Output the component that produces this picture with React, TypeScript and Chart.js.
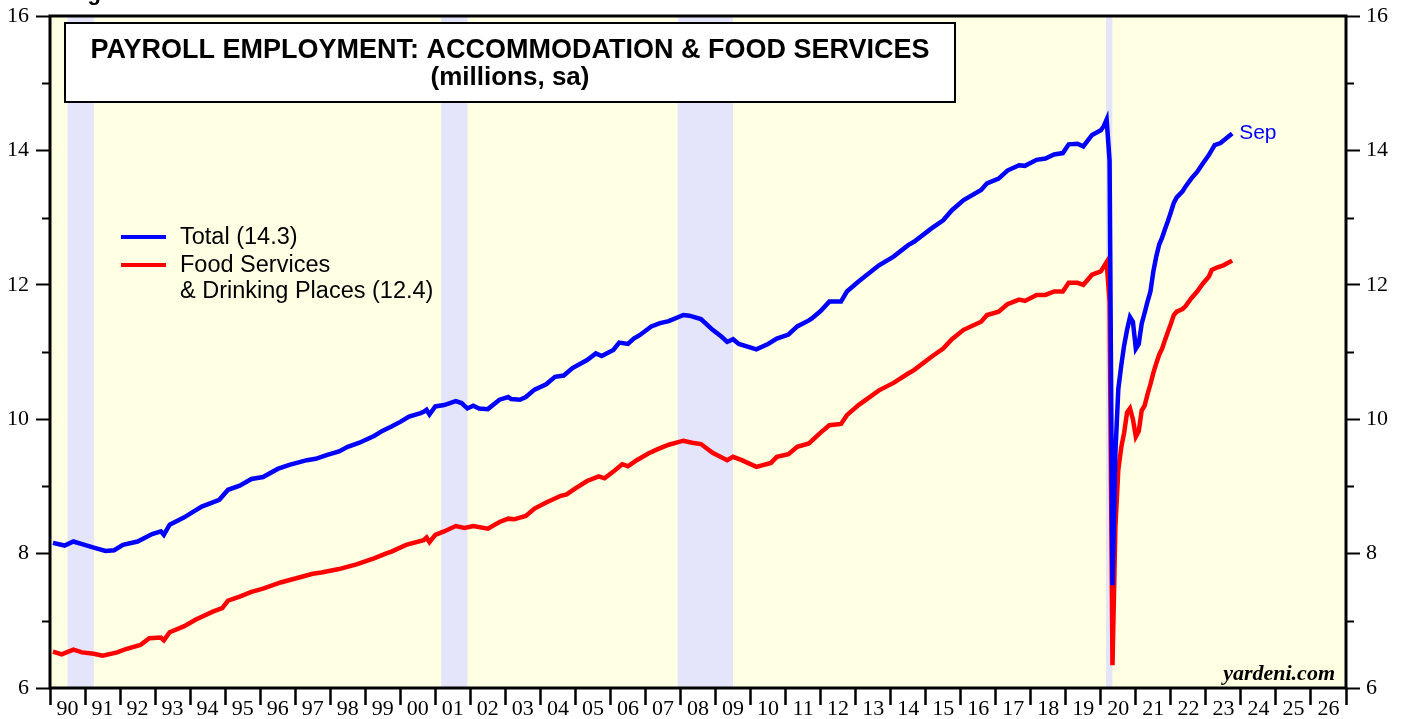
import { useEffect, useRef } from 'react';
import { Chart, registerables } from 'chart.js';

Chart.register(...registerables);

// ---------------- data (millions, sa) ----------------
const totalDates = [
  '1990-01', '1990-05', '1990-08', '1990-11', '1991-03', '1991-07', '1991-10', '1992-01', '1992-06', '1992-11',
  '1993-02', '1993-03', '1993-05', '1993-10', '1994-01', '1994-04', '1994-10', '1995-01', '1995-05', '1995-09',
  '1996-01', '1996-06', '1996-10', '1997-04', '1997-07', '1997-11', '1998-03', '1998-06', '1998-10', '1999-03',
  '1999-06', '1999-09', '1999-12', '2000-03', '2000-07', '2000-08', '2000-09', '2000-10', '2000-12', '2001-03',
  '2001-07', '2001-09', '2001-11', '2002-01', '2002-03', '2002-06', '2002-10', '2003-01', '2003-02', '2003-05',
  '2003-07', '2003-10', '2004-02', '2004-05', '2004-08', '2004-11', '2005-04', '2005-07', '2005-09', '2006-01',
  '2006-03', '2006-06', '2006-08', '2006-10', '2007-02', '2007-05', '2007-08', '2008-01', '2008-03', '2008-07',
  '2008-11', '2009-02', '2009-04', '2009-06', '2009-08', '2010-02', '2010-06', '2010-09', '2011-01', '2011-04',
  '2011-08', '2011-09', '2011-12', '2012-03', '2012-07', '2012-09', '2013-01', '2013-08', '2014-01', '2014-06',
  '2014-08', '2015-02', '2015-06', '2015-09', '2016-01', '2016-07', '2016-09', '2017-01', '2017-04', '2017-08',
  '2017-10', '2018-02', '2018-05', '2018-08', '2018-11', '2019-01', '2019-04', '2019-06', '2019-09', '2019-12',
  '2020-01', '2020-02', '2020-03', '2020-04', '2020-05', '2020-06', '2020-07', '2020-08', '2020-09', '2020-10',
  '2020-11', '2020-12', '2021-01', '2021-02', '2021-03', '2021-04', '2021-05', '2021-06', '2021-07', '2021-08',
  '2021-09', '2021-10', '2021-11', '2021-12', '2022-01', '2022-02', '2022-04', '2022-05', '2022-07', '2022-09',
  '2022-11', '2023-01', '2023-03', '2023-05', '2023-07', '2023-09',
];
const totalValues = [
  8.16, 8.12, 8.18, 8.14, 8.09, 8.04, 8.05, 8.13, 8.18, 8.29,
  8.33, 8.28, 8.43, 8.54, 8.62, 8.70, 8.80, 8.95, 9.01, 9.11,
  9.14, 9.26, 9.32, 9.39, 9.41, 9.47, 9.52, 9.59, 9.65, 9.75,
  9.83, 9.89, 9.96, 10.04, 10.09, 10.11, 10.14, 10.07, 10.19, 10.21,
  10.27, 10.24, 10.16, 10.20, 10.16, 10.15, 10.29, 10.33, 10.30, 10.29,
  10.33, 10.44, 10.52, 10.63, 10.65, 10.76, 10.88, 10.98, 10.94, 11.03,
  11.14, 11.12, 11.20, 11.25, 11.38, 11.43, 11.46, 11.55, 11.54, 11.49,
  11.33, 11.23, 11.15, 11.19, 11.12, 11.04, 11.12, 11.20, 11.26, 11.38,
  11.47, 11.50, 11.61, 11.75, 11.75, 11.90, 12.05, 12.29, 12.42, 12.59,
  12.64, 12.84, 12.96, 13.11, 13.26, 13.41, 13.51, 13.58, 13.70, 13.78,
  13.77, 13.86, 13.88, 13.94, 13.96, 14.09, 14.10, 14.06, 14.23, 14.30,
  14.36, 14.46, 13.85, 7.53, 9.50, 10.45, 10.80, 11.10, 11.33, 11.52,
  11.45, 11.05, 11.12, 11.42, 11.58, 11.75, 11.90, 12.20, 12.42, 12.60,
  12.70, 12.83, 12.95, 13.08, 13.22, 13.30, 13.39, 13.46, 13.58, 13.68,
  13.81, 13.93, 14.08, 14.11, 14.18, 14.25,
];

const foodDates = [
  '1990-01', '1990-04', '1990-08', '1990-11', '1991-03', '1991-06', '1991-11', '1992-02', '1992-07', '1992-10',
  '1993-02', '1993-03', '1993-05', '1993-10', '1994-02', '1994-08', '1994-11', '1995-01', '1995-05', '1995-09',
  '1996-01', '1996-07', '1997-01', '1997-06', '1997-09', '1998-03', '1998-09', '1999-03', '1999-07', '1999-09',
  '2000-02', '2000-08', '2000-09', '2000-10', '2000-12', '2001-03', '2001-07', '2001-10', '2002-01', '2002-06',
  '2002-10', '2003-01', '2003-03', '2003-07', '2003-10', '2004-02', '2004-07', '2004-09', '2004-12', '2005-04',
  '2005-08', '2005-10', '2006-01', '2006-04', '2006-06', '2006-09', '2007-01', '2007-04', '2007-08', '2008-01',
  '2008-04', '2008-07', '2008-11', '2009-04', '2009-06', '2009-09', '2010-02', '2010-07', '2010-09', '2011-01',
  '2011-04', '2011-08', '2011-12', '2012-03', '2012-07', '2012-09', '2013-01', '2013-08', '2014-01', '2014-06',
  '2014-08', '2015-02', '2015-06', '2015-09', '2016-01', '2016-07', '2016-09', '2017-01', '2017-04', '2017-08',
  '2017-10', '2018-02', '2018-05', '2018-08', '2018-11', '2019-01', '2019-04', '2019-06', '2019-09', '2019-12',
  '2020-01', '2020-02', '2020-03', '2020-04', '2020-05', '2020-06', '2020-07', '2020-08', '2020-09', '2020-10',
  '2020-11', '2020-12', '2021-01', '2021-02', '2021-03', '2021-04', '2021-05', '2021-06', '2021-07', '2021-08',
  '2021-09', '2021-10', '2021-11', '2021-12', '2022-01', '2022-02', '2022-04', '2022-05', '2022-07', '2022-09',
  '2022-11', '2023-01', '2023-02', '2023-04', '2023-06', '2023-09',
];
const foodValues = [
  6.54, 6.50, 6.57, 6.53, 6.51, 6.48, 6.53, 6.58, 6.64, 6.74,
  6.75, 6.71, 6.83, 6.92, 7.02, 7.14, 7.19, 7.30, 7.36, 7.43,
  7.48, 7.57, 7.64, 7.70, 7.72, 7.77, 7.84, 7.93, 8.00, 8.03,
  8.13, 8.20, 8.24, 8.17, 8.28, 8.33, 8.41, 8.38, 8.41, 8.37,
  8.47, 8.52, 8.51, 8.56, 8.67, 8.76, 8.86, 8.88, 8.97, 9.08,
  9.15, 9.12, 9.22, 9.33, 9.30, 9.39, 9.49, 9.55, 9.62, 9.68,
  9.65, 9.63, 9.50, 9.39, 9.44, 9.39, 9.29, 9.35, 9.44, 9.48,
  9.59, 9.64, 9.80, 9.91, 9.93, 10.06, 10.21, 10.43, 10.54, 10.68,
  10.73, 10.93, 11.05, 11.19, 11.33, 11.45, 11.55, 11.60, 11.71, 11.78,
  11.76, 11.85, 11.85, 11.90, 11.90, 12.03, 12.03, 12.00, 12.15, 12.20,
  12.27, 12.34, 11.75, 6.34, 8.40, 9.25, 9.58, 9.80, 10.10, 10.16,
  10.00, 9.74, 9.82, 10.13, 10.20, 10.37, 10.52, 10.69, 10.83, 10.96,
  11.05, 11.18, 11.30, 11.42, 11.55, 11.60, 11.64, 11.68, 11.80, 11.90,
  12.02, 12.12, 12.22, 12.26, 12.29, 12.36,
];

const recessionStarts = [1990.5, 2001.17, 2007.92, 2020.15];
const recessionEnds = [1991.25, 2001.92, 2009.5, 2020.33];

const firstYear = 1990;
const lastYear = 2027;
const yMin = 6;
const yMax = 16;

const titleLines = ['PAYROLL EMPLOYMENT: ACCOMMODATION & FOOD SERVICES', '(millions, sa)'];
const legendTotal = ['Total (14.3)'];
const legendFood = ['Food Services', '& Drinking Places (12.4)'];
const lastLabel = 'Sep';
const sourceLabel = 'yardeni.com';
const figureLabel = 'Figure 1.';

const toX = (d: string) => {
  const [y, m] = d.split('-').map(Number);
  return y + m / 12;
};

const SANS = '"Liberation Sans", Arial, sans-serif';
const SERIF = '"Liberation Serif", "Times New Roman", serif';

const decorPlugin = {
  id: 'decor',
  beforeDraw(chart: any) {
    const { ctx, chartArea: a, scales } = chart;
    const x = scales.x;
    ctx.save();
    ctx.fillStyle = '#ffffe3';
    ctx.fillRect(a.left, a.top, a.right - a.left, a.bottom - a.top);
    ctx.fillStyle = '#e4e4fa';
    recessionStarts.forEach((s, i) => {
      const x0 = x.getPixelForValue(s);
      const x1 = x.getPixelForValue(recessionEnds[i]);
      ctx.fillRect(x0, a.top, x1 - x0, a.bottom - a.top);
    });
    // title box
    ctx.fillStyle = '#ffffff';
    ctx.fillRect(65, 23, 890, 79);
    ctx.strokeStyle = '#000';
    ctx.lineWidth = 2;
    ctx.strokeRect(65, 23, 890, 79);
    ctx.fillStyle = '#000';
    ctx.textAlign = 'center';
    ctx.textBaseline = 'middle';
    ctx.font = `bold 27px ${SANS}`;
    ctx.fillText(titleLines[0], 510, 51);
    ctx.font = `bold 26px ${SANS}`;
    ctx.fillText(titleLines[1], 510, 78);
    ctx.restore();
  },
  afterDraw(chart: any) {
    const { ctx, chartArea: a, scales } = chart;
    const y = scales.y;
    ctx.save();
    // frame
    ctx.strokeStyle = '#000';
    ctx.lineWidth = 3;
    ctx.strokeRect(a.left, a.top, a.right - a.left, a.bottom - a.top);
    // minor y ticks
    ctx.lineWidth = 2;
    for (let v = yMin + 1; v < yMax; v += 2) {
      const py = Math.round(y.getPixelForValue(v)) + 0.5;
      ctx.beginPath();
      ctx.moveTo(a.left - 8, py);
      ctx.lineTo(a.left, py);
      ctx.moveTo(a.right, py);
      ctx.lineTo(a.right + 8, py);
      ctx.stroke();
    }
    // legend
    ctx.lineWidth = 4;
    ctx.strokeStyle = '#0000ff';
    ctx.beginPath();
    ctx.moveTo(121, 237);
    ctx.lineTo(166, 237);
    ctx.stroke();
    ctx.strokeStyle = '#ff0000';
    ctx.beginPath();
    ctx.moveTo(121, 265);
    ctx.lineTo(166, 265);
    ctx.stroke();
    ctx.fillStyle = '#000';
    ctx.font = `23.5px ${SANS}`;
    ctx.textAlign = 'left';
    ctx.textBaseline = 'middle';
    ctx.fillText(legendTotal[0], 180, 238);
    ctx.fillText(legendFood[0], 180, 266);
    ctx.fillText(legendFood[1], 180, 292);
    // last point label
    const meta = chart.getDatasetMeta(0);
    const pt = meta.data[meta.data.length - 1];
    if (pt) {
      ctx.fillStyle = '#0000ff';
      ctx.font = `21px ${SANS}`;
      ctx.fillText(lastLabel, pt.x + 7, pt.y);
    }
    // source
    ctx.fillStyle = '#000';
    ctx.font = `bold italic 22px ${SERIF}`;
    ctx.textAlign = 'right';
    ctx.textBaseline = 'alphabetic';
    ctx.fillText(sourceLabel, 1335, 680);
    // figure label (clipped at the top)
    ctx.font = `bold 22px ${SANS}`;
    ctx.textAlign = 'left';
    ctx.fillText(figureLabel, 68, 0);
    ctx.restore();
  },
};

export default function App() {
  const ref = useRef<HTMLCanvasElement | null>(null);

  useEffect(() => {
    document.body.style.margin = '0';
    const canvas = ref.current;
    if (!canvas) return;
    const yearWidth = (1346 - 50) / (lastYear - firstYear);
    const xTickFont = { family: SERIF, size: 22 };
    const yTickFont = { family: SERIF, size: 22, lineHeight: 0.5 };
    const chart = new Chart(canvas, {
      type: 'line',
      data: {
        datasets: [
          {
            label: 'Total',
            data: totalDates.map((d, i) => ({ x: toX(d), y: totalValues[i] })),
            borderColor: '#0000ff',
            borderWidth: 4.5,
            pointRadius: 0,
            tension: 0,
            yAxisID: 'y',
          },
          {
            label: 'Food Services & Drinking Places',
            data: foodDates.map((d, i) => ({ x: toX(d), y: foodValues[i] })),
            borderColor: '#ff0000',
            borderWidth: 4.5,
            pointRadius: 0,
            tension: 0,
            yAxisID: 'y',
          },
        ],
      },
      options: {
        responsive: false,
        animation: false,
        devicePixelRatio: 1,
        layout: { padding: { top: 16, left: 0, right: 0, bottom: 0 } },
        plugins: { legend: { display: false }, tooltip: { enabled: false }, title: { display: false } },
        scales: {
          x: {
            type: 'linear',
            min: firstYear,
            max: lastYear,
            ticks: {
              stepSize: 1,
              autoSkip: false,
              maxRotation: 0,
              minRotation: 0,
              labelOffset: yearWidth / 2,
              padding: -9,
              color: '#000',
              font: xTickFont,
              callback: (v: any) => (Number(v) >= lastYear ? '' : String(Number(v) % 100).padStart(2, '0')),
            },
            grid: { drawOnChartArea: false, drawTicks: true, tickLength: 17, tickWidth: 2.5, tickColor: '#000' },
            border: { display: false },
            afterFit: (s: any) => {
              s.height = 31;
            },
          },
          y: {
            type: 'linear',
            position: 'left',
            min: yMin,
            max: yMax,
            ticks: { stepSize: 2, color: '#000', font: yTickFont, padding: 7 },
            grid: { drawOnChartArea: false, drawTicks: true, tickLength: 14, tickWidth: 2, tickColor: '#000' },
            border: { display: false },
            afterFit: (s: any) => {
              s.width = 50;
            },
          },
          y2: {
            type: 'linear',
            position: 'right',
            min: yMin,
            max: yMax,
            ticks: { stepSize: 2, color: '#000', font: yTickFont, padding: 6 },
            grid: { drawOnChartArea: false, drawTicks: true, tickLength: 14, tickWidth: 2, tickColor: '#000' },
            border: { display: false },
            afterFit: (s: any) => {
              s.width = 60;
            },
          },
        },
      },
      plugins: [decorPlugin],
    } as any);
    return () => chart.destroy();
  }, []);

  return (
    <div style={{ position: 'absolute', left: 0, top: 0, width: 1406, height: 719 }}>
      <canvas ref={ref} width={1406} height={719} style={{ display: 'block' }} />
    </div>
  );
}
